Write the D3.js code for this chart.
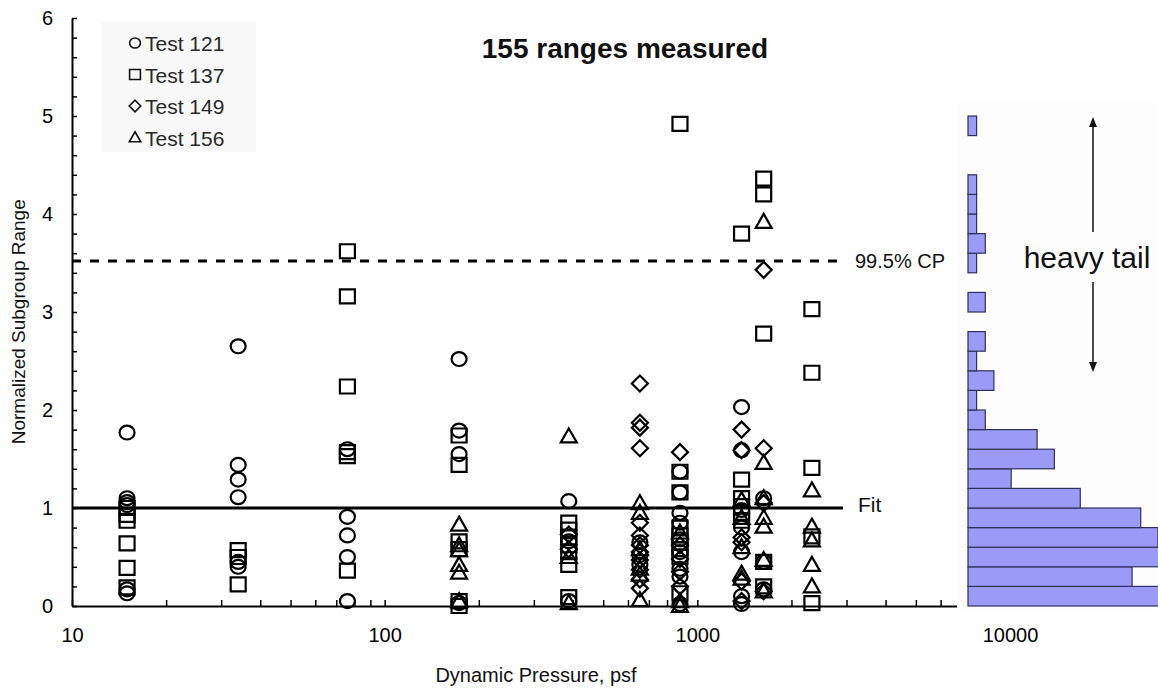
<!DOCTYPE html>
<html>
<head>
<meta charset="utf-8">
<script src="https://cdn.jsdelivr.net/npm/d3@7"></script>
<style>
  body { margin: 0; background: #fff; }
  svg { display: block; font-family: "Liberation Sans", Arial, sans-serif; }
</style>
</head>
<body>
<svg id="chart" width="1158" height="690"></svg>
<script>
// Dynamic-pressure groups (psf) at which subgroup ranges were measured
const pressures = [15, 34, 76, 173, 388, 655, 880, 1385, 1630, 2325];

// Normalized subgroup ranges per test, as [pressure, range]
const test121 = [
  [15, 1.77], [15, 1.10], [15, 1.06], [15, 1.03], [15, 0.17], [15, 0.13],
  [34, 2.65], [34, 1.44], [34, 1.29], [34, 1.11], [34, 0.45], [34, 0.40],
  [76, 1.60], [76, 0.91], [76, 0.72], [76, 0.50], [76, 0.05],
  [173, 2.52], [173, 1.79], [173, 1.55], [173, 0.03],
  [388, 1.07], [388, 0.66], [388, 0.05],
  [655, 0.65], [655, 0.52], [655, 0.42],
  [880, 1.37], [880, 1.16], [880, 0.95], [880, 0.85], [880, 0.68], [880, 0.55], [880, 0.38], [880, 0.30], [880, 0.02],
  [1385, 2.03], [1385, 1.59], [1385, 0.98], [1385, 0.80], [1385, 0.55], [1385, 0.10], [1385, 0.02],
  [1630, 1.10], [1630, 0.45], [1630, 0.17]
];
const test137 = [
  [15, 1.00], [15, 0.93], [15, 0.87], [15, 0.64], [15, 0.39], [15, 0.19],
  [34, 0.57], [34, 0.50], [34, 0.22],
  [76, 3.62], [76, 3.16], [76, 2.24], [76, 1.57], [76, 1.53], [76, 0.36],
  [173, 1.74], [173, 1.44], [173, 0.66], [173, 0.58], [173, 0.05], [173, 0.00],
  [388, 0.85], [388, 0.78], [388, 0.70], [388, 0.62], [388, 0.55], [388, 0.42], [388, 0.09],
  [880, 4.92], [880, 1.37], [880, 1.16], [880, 0.80], [880, 0.72], [880, 0.65], [880, 0.58], [880, 0.50], [880, 0.13],
  [1385, 3.80], [1385, 1.29], [1385, 1.10], [1385, 1.02], [1385, 0.95], [1385, 0.87],
  [1630, 4.36], [1630, 4.20], [1630, 2.78], [1630, 0.45], [1630, 0.20],
  [2325, 3.03], [2325, 2.38], [2325, 1.41], [2325, 0.71], [2325, 0.03]
];
const test149 = [
  [388, 0.73], [388, 0.58],
  [655, 2.27], [655, 1.87], [655, 1.82], [655, 1.61], [655, 0.85], [655, 0.72], [655, 0.62], [655, 0.55], [655, 0.47], [655, 0.37], [655, 0.27], [655, 0.18],
  [880, 1.57], [880, 0.62], [880, 0.48], [880, 0.35], [880, 0.20],
  [1385, 1.80], [1385, 1.59], [1385, 0.70], [1385, 0.65], [1385, 0.25], [1385, 0.05],
  [1630, 3.43], [1630, 1.61], [1630, 1.05], [1630, 0.15]
];
const test156 = [
  [173, 0.83], [173, 0.62], [173, 0.57], [173, 0.42], [173, 0.34], [173, 0.05],
  [388, 1.73], [388, 0.50], [388, 0.03],
  [655, 1.05], [655, 0.95], [655, 0.58], [655, 0.38], [655, 0.32], [655, 0.06],
  [880, 0.75], [880, 0.05], [880, 0.00],
  [1385, 1.08], [1385, 0.90], [1385, 0.60], [1385, 0.33], [1385, 0.28],
  [1630, 3.92], [1630, 1.46], [1630, 1.10], [1630, 0.90], [1630, 0.81], [1630, 0.47], [1630, 0.15],
  [2325, 1.18], [2325, 0.81], [2325, 0.67], [2325, 0.42], [2325, 0.20]
];

// Histogram of all ranges: bin lower edges (width 0.2) and counts
const binStarts = [0, 0.2, 0.4, 0.6, 0.8, 1.0, 1.2, 1.4, 1.6, 1.8, 2.0, 2.2, 2.4, 2.6, 2.8, 3.0, 3.2, 3.4, 3.6, 3.8, 4.0, 4.2, 4.4, 4.6, 4.8];
const binCounts = [23, 19, 24, 22, 20, 13, 5, 10, 8, 2, 1, 3, 1, 2, 0, 2, 0, 1, 2, 1, 1, 1, 0, 0, 1];

// Reference levels
const fitLevel = 1.0;
const cpLevel = 3.52;
const xTickLabels = [10, 100, 1000, 10000];
const yTickLabels = [0, 1, 2, 3, 4, 5, 6];

const svg = d3.select("#chart");

const x = d3.scaleLog().domain([10, 10000]).range([72, 1010]);
const y = d3.scaleLinear().domain([0, 6]).range([606, 18]);
const binWidth = 0.2;
const xh = d3.scaleLinear().domain([0, 22]).range([968, 1158]);

// ---- axes ----
const xTicks = [];
for (let k = 1; k <= 3; k++) for (let m = 1; m <= 9; m++) xTicks.push(m * Math.pow(10, k));
xTicks.push(10000);

const xAxis = d3.axisBottom(x)
  .tickValues(xTicks)
  .tickSizeInner(-6).tickSizeOuter(0).tickPadding(22)
  .tickFormat(d => xTickLabels.includes(d) ? String(d) : "");
const gx = svg.append("g").attr("transform", `translate(0,${y(0)})`).call(xAxis);
gx.select(".domain").attr("stroke", "#000").attr("stroke-width", 2);
gx.selectAll(".tick line").attr("stroke", "#000").attr("stroke-width", 1.5);
gx.selectAll(".tick text").attr("font-size", 20).attr("fill", "#000")
  .attr("font-family", "Liberation Sans, Arial, sans-serif");

const yTicks = d3.range(0, 6.001, 0.2).map(v => Math.round(v * 10) / 10);
const yAxis = d3.axisLeft(y)
  .tickValues(yTicks)
  .tickSizeInner(-5).tickSizeOuter(0).tickPadding(19)
  .tickFormat(d => yTickLabels.includes(d) ? String(d) : "");
const gy = svg.append("g").attr("transform", `translate(${x(10)},0)`).call(yAxis);
gy.select(".domain").attr("stroke", "#000").attr("stroke-width", 2);
gy.selectAll(".tick line").attr("stroke", "#000").attr("stroke-width", 1.5);
gy.selectAll(".tick text").attr("font-size", 20).attr("fill", "#000")
  .attr("font-family", "Liberation Sans, Arial, sans-serif");

// axis titles
svg.append("text")
  .attr("x", 536).attr("y", 682)
  .attr("text-anchor", "middle").attr("font-size", 20).attr("fill", "#111")
  .text("Dynamic Pressure, psf");
svg.append("text")
  .attr("transform", `translate(25,${y(2.9)}) rotate(-90)`)
  .attr("text-anchor", "middle").attr("font-size", 19).attr("fill", "#111")
  .text("Normalized Subgroup Range");

// ---- reference lines ----
svg.append("line")
  .attr("x1", x(10)).attr("x2", 841)
  .attr("y1", y(cpLevel)).attr("y2", y(cpLevel))
  .attr("stroke", "#000").attr("stroke-width", 3).attr("stroke-dasharray", "9,9");
svg.append("text").attr("x", 855).attr("y", y(cpLevel) + 7)
  .attr("font-size", 20).attr("fill", "#111").text("99.5% CP");

svg.append("line")
  .attr("x1", x(10)).attr("x2", 843)
  .attr("y1", y(fitLevel)).attr("y2", y(fitLevel))
  .attr("stroke", "#000").attr("stroke-width", 3);
svg.append("text").attr("x", 858).attr("y", y(fitLevel) + 4)
  .attr("font-size", 21).attr("fill", "#111").text("Fit");

// ---- markers ----
const shapes = {
  circle: s => { const r = 7.5 * s; return `M${-r},0A${r},${r * 0.93} 0 1,0 ${r},0A${r},${r * 0.93} 0 1,0 ${-r},0Z`; },
  square: s => { const w = 7.5 * s, h = 7 * s; return `M${-w},${-h}H${w}V${h}H${-w}Z`; },
  diamond: s => { const d = 8 * s; return `M0,${-d}L${d},0L0,${d}L${-d},0Z`; },
  triangle: s => { const w = 8 * s; return `M0,${-8 * s}L${w},${6 * s}L${-w},${6 * s}Z`; }
};

const series = [
  { name: "Test 121", shape: "circle", data: test121 },
  { name: "Test 137", shape: "square", data: test137 },
  { name: "Test 149", shape: "diamond", data: test149 },
  { name: "Test 156", shape: "triangle", data: test156 }
];

series.forEach(s => {
  svg.append("g").selectAll("path")
    .data(s.data).enter().append("path")
    .attr("transform", d => `translate(${x(d[0])},${y(d[1])})`)
    .attr("d", shapes[s.shape](1))
    .attr("fill", "none").attr("stroke", "#000").attr("stroke-width", 2.2);
});

// ---- legend ----
const legend = svg.append("g");
legend.append("rect").attr("x", 102).attr("y", 22).attr("width", 154).attr("height", 130)
  .attr("fill", "#f8f8f8");
series.forEach((s, i) => {
  const cy = 43 + i * 31.5;
  legend.append("path").attr("transform", `translate(135,${cy})`)
    .attr("d", shapes[s.shape](0.72))
    .attr("fill", "none").attr("stroke", "#111").attr("stroke-width", 1.6);
  legend.append("text").attr("x", 145).attr("y", cy + 8)
    .attr("font-size", 21).attr("fill", "#2a2a2a").text(s.name);
});

// ---- title ----
svg.append("text").attr("x", 625).attr("y", 58)
  .attr("text-anchor", "middle").attr("font-size", 28).attr("font-weight", "bold")
  .attr("fill", "#111").text("155 ranges measured");

// ---- histogram panel ----
svg.append("rect").attr("x", 957).attr("y", 100).attr("width", 201).attr("height", 513)
  .attr("fill", "#fdfdfd");
const bins = binStarts.map((b, i) => ({ lo: b, n: binCounts[i] })).filter(d => d.n > 0);
svg.append("g").selectAll("rect")
  .data(bins).enter().append("rect")
  .attr("x", xh(0))
  .attr("y", d => y(d.lo + binWidth))
  .attr("width", d => xh(d.n) - xh(0))
  .attr("height", d => y(d.lo) - y(d.lo + binWidth))
  .attr("fill", "#9b9bf7").attr("stroke", "#30305e").attr("stroke-width", 1.2);

// ---- heavy tail annotation ----
const ax = 1093;
const ann = svg.append("g");
ann.append("line").attr("x1", ax).attr("x2", ax).attr("y1", 124).attr("y2", 232)
  .attr("stroke", "#111").attr("stroke-width", 1.5);
ann.append("line").attr("x1", ax).attr("x2", ax).attr("y1", 282).attr("y2", 365)
  .attr("stroke", "#111").attr("stroke-width", 1.5);
ann.append("path").attr("d", `M${ax},117L${ax - 4},127L${ax + 4},127Z`).attr("fill", "#111");
ann.append("path").attr("d", `M${ax},372L${ax - 4},362L${ax + 4},362Z`).attr("fill", "#111");
ann.append("text").attr("x", 1087).attr("y", 268)
  .attr("text-anchor", "middle").attr("font-size", 30).attr("fill", "#111")
  .text("heavy tail");
</script>
</body>
</html>
